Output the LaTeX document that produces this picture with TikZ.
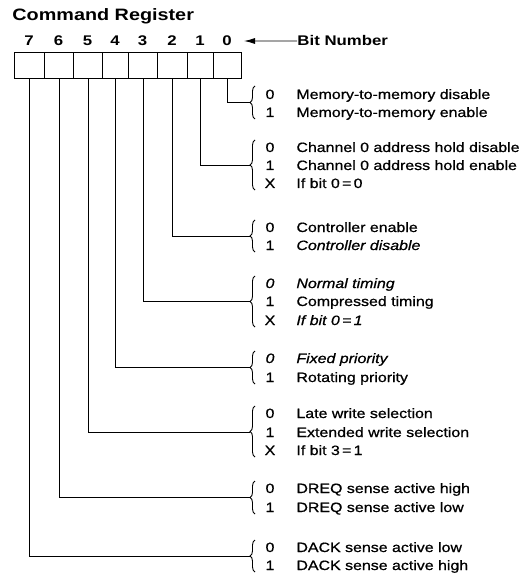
\documentclass[tikz,border=0pt]{standalone}
\usepackage{fontspec}
\setmainfont{Liberation Sans}[FakeStretch=1.18,FakeBold=0.8]
\newfontfamily\headfont{Liberation Sans Bold}[FakeStretch=1.2]
\usetikzlibrary{decorations.pathreplacing,arrows.meta}
\begin{document}
\begin{tikzpicture}[x=1pt,y=-1pt,line width=0.9pt,
  regbox/.style={draw,minimum height=26pt,inner sep=0pt,anchor=north west},
  bitnum/.style={font=\fontsize{14}{16}\headfont,inner sep=0pt,anchor=base},
  val/.style={font=\fontsize{13.5}{16}\selectfont,inner sep=0pt,anchor=base},
  desc/.style={font=\fontsize{13.5}{16}\selectfont,inner sep=0pt,anchor=base west},
  grp/.style={decorate,decoration={brace,amplitude=5pt,aspect=0.5}},
  conn/.style={line width=0.9pt}]
\useasboundingbox (0,0) rectangle (526,577);

% title
\node[inner sep=0pt,anchor=base west,font=\fontsize{16.5}{18}\headfont] (title) at (12,21) {Command Register};

% register boxes and bit numbers
\foreach \l/\r/\b in {14/44/7,44/73/6,73/102/5,102/128/4,128/157/3,157/187/2,187/213/1,213/241/0}{
  \node[regbox,minimum width={(\r-\l)*1pt}] (b\b) at (\l,52) {};
  \node[bitnum] (d\b) at ({(\l+\r)/2},46) {\b};
}

% Bit Number label and arrow
\node[inner sep=0pt,anchor=base west,font=\fontsize{14}{16}\headfont] (bn) at (297,46) {Bit Number};
\coordinate (arr) at (244,41);
\draw[-{Latex[length=11pt,width=6pt]}] (bn.west) -- (arr);

% group tips
\foreach \b/\y in {0/102,1/165,2/236,3/301,4/367,5/432,6/497,7/556}{
  \coordinate (t\b) at (250,\y);
  \draw[conn] (b\b.south) |- (t\b);
}

% braces
\draw[grp] (255,119) -- (255,86);
\draw[grp] (255,190) -- (255,140);
\draw[grp] (255,252) -- (255,220);
\draw[grp] (255,327) -- (255,276);
\draw[grp] (255,384) -- (255,351);
\draw[grp] (255,457) -- (255,406);
\draw[grp] (255,514) -- (255,481);
\draw[grp] (255,572) -- (255,540);

% group 0
\node[val] (v00) at (270,99) {0};
\node[desc] (s00) at (296,99) {Memory-to-memory disable};
\node[val] (v01) at (270,117) {1};
\node[desc] (s01) at (296,117) {Memory-to-memory enable};
% group 1
\node[val] (v10) at (270,152) {0};
\node[desc] (s10) at (296,152) {Channel 0 address hold disable};
\node[val] (v11) at (270,170) {1};
\node[desc] (s11) at (296,170) {Channel 0 address hold enable};
\node[val] (v12) at (270,188) {X};
\node[desc] (s12) at (296,188) {If bit 0\,=\,0};
% group 2
\node[val] (v20) at (270,232) {0};
\node[desc] (s20) at (296,232) {Controller enable};
\node[val] (v21) at (270,250) {1};
\node[desc] (s21) at (296,250) {\itshape Controller disable};
% group 3
\node[val] (v30) at (270,288) {\itshape 0};
\node[desc] (s30) at (296,288) {\itshape Normal timing};
\node[val] (v31) at (270,306) {1};
\node[desc] (s31) at (296,306) {Compressed timing};
\node[val] (v32) at (270,325) {X};
\node[desc] (s32) at (296,325) {\itshape If bit 0\,=\,1};
% group 4
\node[val] (v40) at (270,363) {\itshape 0};
\node[desc] (s40) at (296,363) {\itshape Fixed priority};
\node[val] (v41) at (270,382) {1};
\node[desc] (s41) at (296,382) {Rotating priority};
% group 5
\node[val] (v50) at (270,418) {0};
\node[desc] (s50) at (296,418) {Late write selection};
\node[val] (v51) at (270,437) {1};
\node[desc] (s51) at (296,437) {Extended write selection};
\node[val] (v52) at (270,455) {X};
\node[desc] (s52) at (296,455) {If bit 3\,=\,1};
% group 6
\node[val] (v60) at (270,493) {0};
\node[desc] (s60) at (296,493) {DREQ sense active high};
\node[val] (v61) at (270,512) {1};
\node[desc] (s61) at (296,512) {DREQ sense active low};
% group 7
\node[val] (v70) at (270,552) {0};
\node[desc] (s70) at (296,552) {DACK sense active low};
\node[val] (v71) at (270,570) {1};
\node[desc] (s71) at (296,570) {DACK sense active high};
\end{tikzpicture}
\end{document}
